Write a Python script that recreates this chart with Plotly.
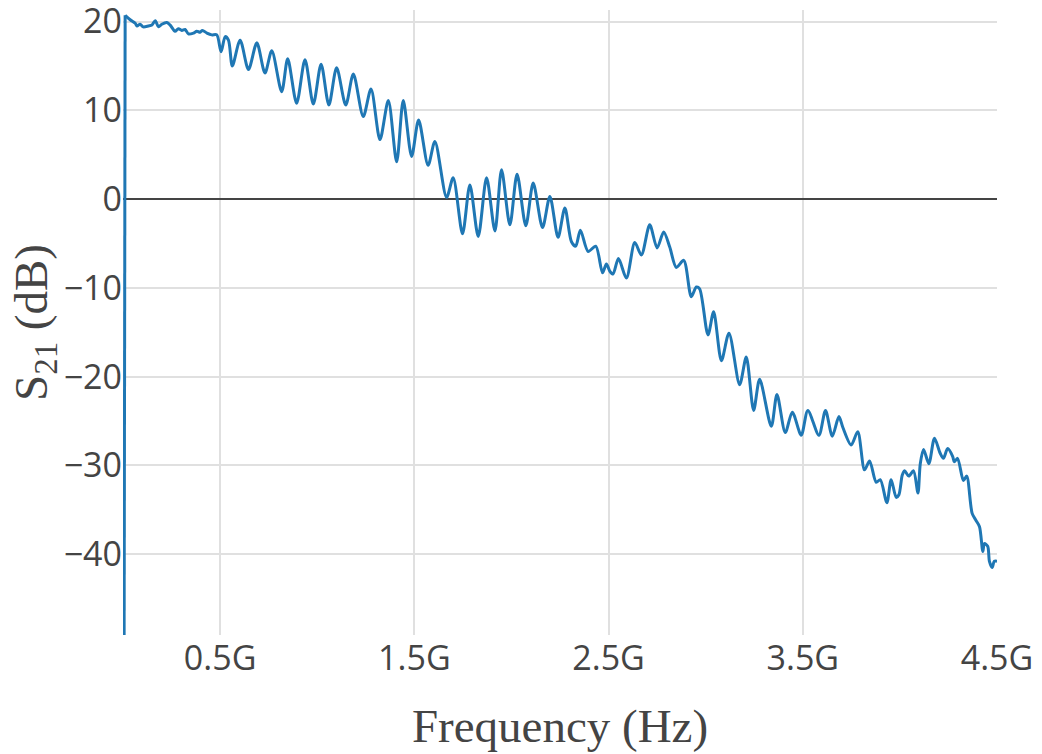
import plotly.graph_objects as go

# Measured transmission S21 versus frequency (frequency in GHz, S21 in dB)
freq_ghz = [
    0.005, 0.011, 0.037, 0.063, 0.072, 0.088, 0.104, 0.131, 0.149, 0.166,
    0.183, 0.200, 0.226, 0.243, 0.268, 0.285, 0.303, 0.320, 0.337, 0.363,
    0.380, 0.397, 0.409, 0.432, 0.457, 0.483, 0.505, 0.526, 0.543, 0.563,
    0.603, 0.646, 0.689, 0.731, 0.766, 0.817, 0.848, 0.894, 0.937, 0.980,
    1.020, 1.060, 1.100, 1.147, 1.186, 1.237, 1.277, 1.323, 1.366, 1.409,
    1.443, 1.486, 1.522, 1.571, 1.606, 1.666, 1.700, 1.748, 1.786, 1.829,
    1.872, 1.915, 1.949, 1.992, 2.029, 2.074, 2.112, 2.160, 2.198, 2.240,
    2.275, 2.309, 2.331, 2.355, 2.395, 2.434, 2.469, 2.489, 2.506, 2.523,
    2.551, 2.592, 2.635, 2.669, 2.712, 2.750, 2.784, 2.815, 2.849, 2.887,
    2.926, 2.952, 2.969, 3.012, 3.041, 3.081, 3.120, 3.175, 3.209, 3.247,
    3.278, 3.338, 3.367, 3.410, 3.446, 3.492, 3.526, 3.583, 3.617, 3.652,
    3.686, 3.706, 3.749, 3.783, 3.818, 3.844, 3.878, 3.899, 3.933, 3.955,
    3.981, 3.995, 4.012, 4.024, 4.046, 4.070, 4.093, 4.105, 4.122, 4.149,
    4.178, 4.207, 4.224, 4.246, 4.272, 4.280, 4.297, 4.327, 4.344, 4.372,
    4.392, 4.410, 4.427, 4.435, 4.452, 4.461, 4.475, 4.486, 4.500,
]

s21_db = [
    -60.0, 20.7, 20.2, 19.8, 19.5, 19.7, 19.4, 19.5, 19.6, 20.1,
    19.4, 19.7, 19.9, 19.6, 18.9, 19.2, 19.0, 19.1, 18.6, 18.7,
    18.9, 18.8, 19.0, 18.7, 18.5, 18.5, 16.6, 18.3, 17.9, 15.0,
    17.9, 14.6, 17.6, 14.2, 16.7, 12.1, 15.8, 10.8, 15.7, 10.7,
    15.2, 10.6, 14.8, 10.6, 14.1, 9.3, 12.4, 6.7, 11.1, 4.2,
    11.1, 4.8, 8.9, 3.8, 6.5, 0.2, 2.4, -3.9, 1.6, -4.2,
    2.4, -3.6, 3.3, -2.9, 2.8, -3.0, 1.8, -3.2, 0.3, -4.3,
    -1.0, -4.8, -5.3, -3.5, -5.9, -5.3, -8.3, -7.3, -8.1, -8.45,
    -6.7, -8.9, -4.9, -6.3, -2.9, -5.5, -3.7, -5.4, -7.7, -6.9,
    -11.0, -9.9, -10.1, -15.3, -12.7, -18.2, -15.1, -20.9, -17.8, -23.8,
    -20.3, -25.6, -22.0, -26.3, -24.0, -26.6, -23.8, -26.6, -23.8, -26.7,
    -24.5, -25.7, -27.7, -26.2, -30.5, -29.5, -31.9, -31.6, -34.2, -31.6,
    -33.6, -33.3, -31.1, -30.6, -31.2, -30.6, -33.1, -29.8, -28.2, -29.8,
    -26.95, -28.6, -29.2, -28.1, -29.0, -29.6, -29.2, -31.7, -31.2, -35.4,
    -36.2, -36.9, -39.7, -38.8, -39.1, -40.8, -41.5, -40.8, -40.8,
]

freq_hz = [f * 1e9 for f in freq_ghz]
line_color = "#1f77b4"

fig = go.Figure()
# Steep rise from the DC sample: straight segment
fig.add_trace(
    go.Scatter(
        x=freq_hz[:2],
        y=s21_db[:2],
        mode="lines",
        line=dict(color=line_color, width=3),
        showlegend=False,
    )
)
# Remainder of the sweep, smoothed
fig.add_trace(
    go.Scatter(
        x=freq_hz[1:],
        y=s21_db[1:],
        mode="lines",
        line=dict(color=line_color, width=3, shape="spline", smoothing=0.8),
        showlegend=False,
    )
)

tick_font = dict(family="Open Sans", size=34, color="#444")
title_font = dict(family="Liberation Serif", size=47, color="#444")

fig.update_layout(
    width=1042,
    height=754,
    margin=dict(l=123, r=45, t=10, b=119),
    paper_bgcolor="white",
    plot_bgcolor="white",
    xaxis=dict(
        title=dict(text="Frequency (Hz)", font=title_font, standoff=30),
        range=[0, 4.5e9],
        tick0=0.5e9,
        dtick=1e9,
        exponentformat="SI",
        tickfont=tick_font,
        ticklabeloverflow="allow",
        automargin=False,
        showgrid=True,
        gridcolor="#e0e0e0",
        gridwidth=1.5,
        zeroline=False,
        showline=False,
        ticks="",
    ),
    yaxis=dict(
        title=dict(text="S<sub>21</sub> (dB)", font=title_font, standoff=0),
        range=[-49.1, 21.3],
        tick0=0,
        dtick=10,
        tickfont=tick_font,
        ticklabeloverflow="allow",
        automargin=False,
        showgrid=True,
        gridcolor="#e0e0e0",
        gridwidth=1.5,
        zeroline=True,
        zerolinecolor="#444",
        zerolinewidth=1.5,
        showline=False,
        ticks="",
    ),
)

fig.write_html("out.html")
